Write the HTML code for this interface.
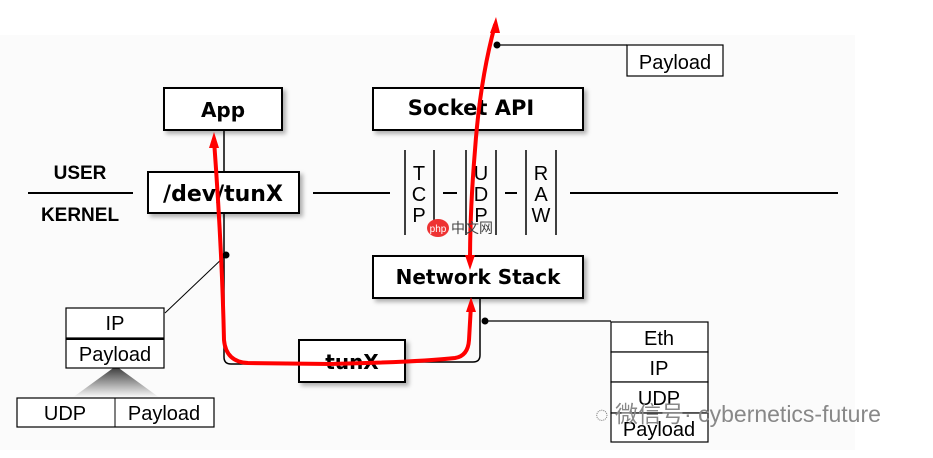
<!DOCTYPE html>
<html><head><meta charset="utf-8"><style>
html,body{margin:0;padding:0;background:#fff;}
svg{display:block;}
.b{font-family:"DejaVu Sans","Liberation Sans",sans-serif;font-weight:bold;}
.n{font-family:"Liberation Sans","Noto Sans CJK SC",sans-serif;}
</style></head><body>
<svg width="933" height="458" viewBox="0 0 933 458" xmlns="http://www.w3.org/2000/svg">
<defs>
<filter id="sh" x="-10%" y="-10%" width="130%" height="140%"><feDropShadow dx="3" dy="3" stdDeviation="2" flood-color="#000" flood-opacity="0.3"/></filter>
<linearGradient id="tg" x1="0" y1="0" x2="0" y2="1"><stop offset="0" stop-color="#333"/><stop offset="1" stop-color="#fff"/></linearGradient>
</defs>
<rect x="0" y="35" width="855" height="415" fill="#fbfbfb"/>
<g stroke="#000" stroke-width="2">
<line x1="28" y1="193" x2="133" y2="193"/>
<line x1="313" y1="193" x2="390" y2="193"/>
<line x1="570" y1="193" x2="838" y2="193"/>
<line x1="443" y1="193" x2="457" y2="193"/>
<line x1="505" y1="193" x2="517" y2="193"/>
</g>
<g stroke="#000" stroke-width="1.5">
<line x1="405" y1="150" x2="405" y2="235"/><line x1="434" y1="150" x2="434" y2="235"/>
<line x1="466" y1="150" x2="466" y2="235"/><line x1="496" y1="150" x2="496" y2="235"/>
<line x1="526" y1="150" x2="526" y2="235"/><line x1="556" y1="150" x2="556" y2="235"/>
</g>
<g class="n" font-size="20" text-anchor="middle">
<text x="419" y="180">T</text><text x="419" y="201">C</text><text x="419" y="222">P</text>
<text x="481" y="180">U</text><text x="481" y="201">D</text><text x="481" y="222">P</text>
<text x="541" y="180">R</text><text x="541" y="201">A</text><text x="541" y="222">W</text>
</g>
<text class="n" x="80" y="179" font-size="19" font-weight="bold" text-anchor="middle">USER</text>
<text class="n" x="80" y="221" font-size="19" font-weight="bold" text-anchor="middle">KERNEL</text>
<g stroke="#000" stroke-width="1.5" fill="none">
<line x1="224" y1="130" x2="224" y2="172"/>
<path d="M224 213 V357 Q224 364 231 364 H299"/>
<path d="M405 362 H473 Q480 362 480 355 V298"/>
</g>
<g fill="#fff" stroke="#000" stroke-width="2" filter="url(#sh)">
<rect x="164" y="88" width="118" height="42"/>
<rect x="373" y="88" width="210" height="42"/>
<rect x="148" y="172" width="151" height="41"/>
<rect x="373" y="256" width="210" height="42"/>
<rect x="299" y="340" width="106" height="42"/>
</g>
<g class="b" font-size="20" text-anchor="middle">
<text x="223" y="117">App</text>
<text x="471" y="115" font-size="21">Socket API</text>
<text x="223" y="201" font-size="22" font-weight="600">/dev/tunX</text>
<text x="478" y="284">Network Stack</text>
<text x="352" y="369">tunX</text>
</g>
<circle cx="226" cy="255" r="3.5"/>
<line x1="226" y1="255" x2="165" y2="313" stroke="#000" stroke-width="1"/>
<polygon points="116,366 72,398 160,398" fill="url(#tg)"/>
<g fill="#fff" stroke="#000" stroke-width="1.2">
<rect x="66" y="308" width="98" height="30"/>
<rect x="66" y="339" width="98" height="29"/>
<rect x="17" y="398" width="197" height="29"/>
<rect x="627" y="45" width="96" height="31"/>
<rect x="611" y="322" width="97" height="30"/>
<rect x="611" y="352" width="97" height="30"/>
<rect x="611" y="382" width="97" height="31"/>
<rect x="611" y="413" width="97" height="29"/>
</g>
<line x1="66" y1="339" x2="164" y2="339" stroke="#000" stroke-width="2"/>
<line x1="115" y1="398" x2="115" y2="427" stroke="#000" stroke-width="1"/>
<g class="n" font-size="20" text-anchor="middle" fill="#000">
<text x="115" y="330">IP</text><text x="115" y="361">Payload</text>
<text x="65" y="420">UDP</text><text x="164" y="420">Payload</text>
<text x="675" y="69">Payload</text>
<text x="659" y="345">Eth</text><text x="659" y="375">IP</text>
<text x="659" y="405">UDP</text><text x="659" y="436">Payload</text>
</g>
<circle cx="485" cy="321" r="3.5"/>
<line x1="485" y1="321" x2="611" y2="321" stroke="#000" stroke-width="1.2"/>
<circle cx="497" cy="45" r="3.5"/>
<line x1="497" y1="45" x2="627" y2="45" stroke="#000" stroke-width="1.2"/>
<g stroke="#f00" stroke-width="4" fill="none" stroke-linecap="round">
<path d="M214 140 Q222 250 224 340 Q226 362 248 363 L330 364 Q420 362 455 358 Q468 356 469 340 L471 305"/>
<path d="M495 25 Q480 80 475 150 Q470 210 470 262"/>
</g>
<g fill="#f00">
<polygon points="214,132 209,148 219,148"/>
<polygon points="471,297 466,312 476,312"/>
<polygon points="496,17 490,33 500,33"/>
<polygon points="470,270 465,255 475,255"/>
</g>
<ellipse cx="438" cy="228" rx="11" ry="9" fill="#e33"/>
<text x="438" y="232" font-size="10" fill="#fff" text-anchor="middle" class="n">php</text>
<text x="451" y="233" font-size="14" fill="#444" class="n">中文网</text>
<text x="595" y="422" font-size="23" fill="#888" class="n">◌ 微信号· cybernetics-future</text>
</svg>
</body></html>
